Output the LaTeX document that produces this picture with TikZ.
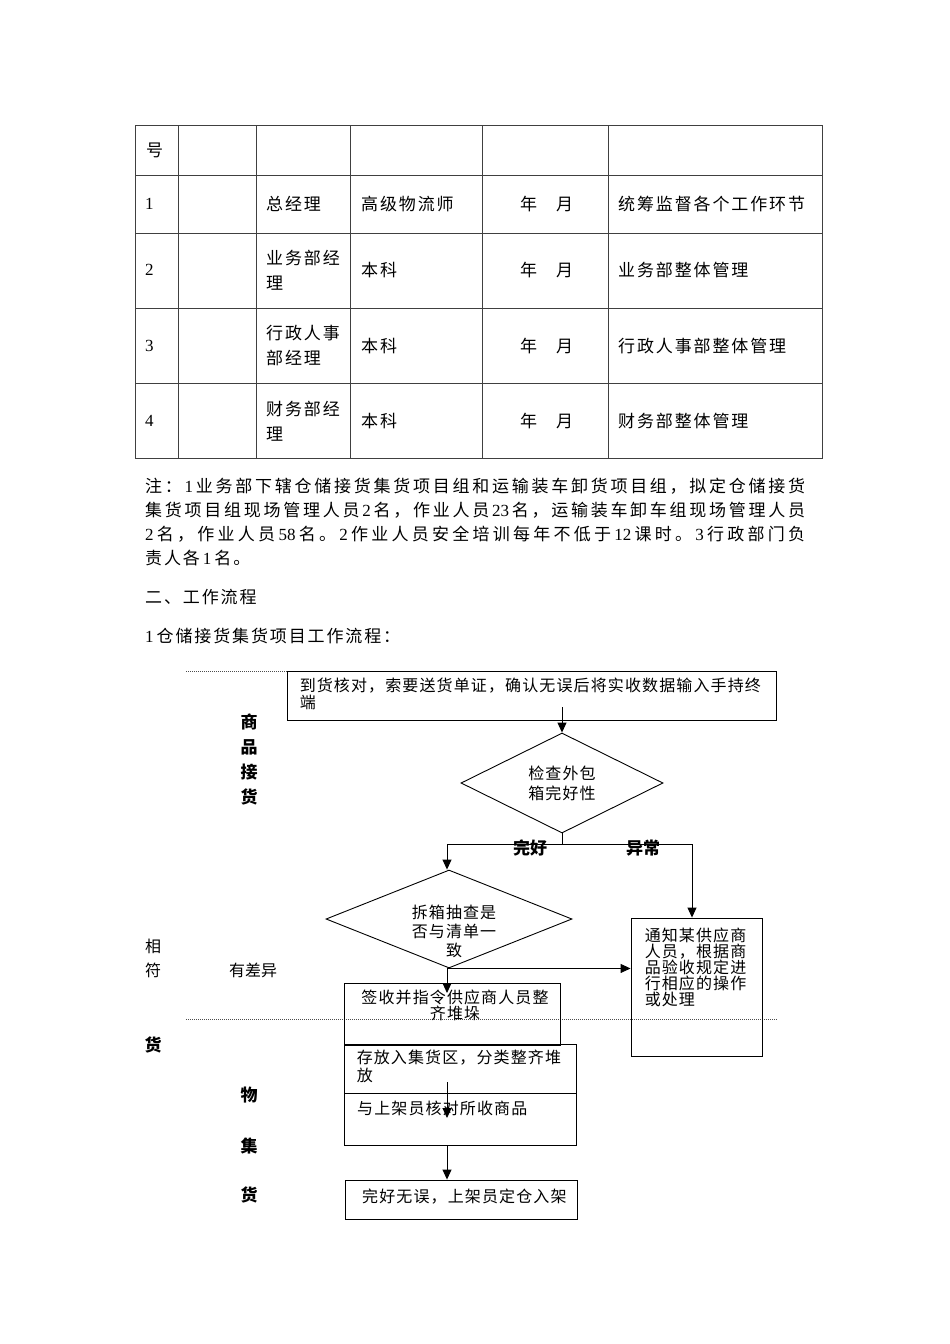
\documentclass[tikz,border=0pt]{standalone}
\usepackage{fontspec}
\setmainfont{Noto Sans CJK SC}
\newfontfamily\bodyfont{Noto Sans CJK SC}[LetterSpace=11]
\newfontfamily\flowfont{Noto Sans CJK SC}[LetterSpace=7]
\newfontfamily\latin{Liberation Serif}
\usetikzlibrary{positioning, arrows.meta, shapes.geometric}

% spread one line of characters over a fixed width
\newcommand\sprEnd{}
\newcommand\spr[2]{\hbox to #1{\sprFirst#2\sprEnd}}
\def\sprFirst#1{#1\sprNext}
\def\sprNext#1{\ifx\sprEnd#1\else\hfil#1\expandafter\sprNext\fi}

\tikzset{
  grid line/.style={draw=black!75, line width=0.9pt},
  cell/.style={anchor=west, inner sep=0pt, font=\fontsize{17}{25}\bodyfont},
  twocell/.style={anchor=north west, inner sep=0pt, align=left, font=\fontsize{17}{25}\bodyfont},
  flowbox/.style={draw, line width=0.9pt, inner sep=0pt},
  flowdia/.style={draw, diamond, line width=0.9pt, inner sep=0pt},
  flowtext/.style={inner sep=0pt, font=\fontsize{16}{17}\flowfont},
  side/.style={inner sep=0pt, font=\fontsize{17}{25}\selectfont\bfseries},
  link/.style={line width=0.9pt},
  arr/.style={link, -{Triangle[length=10pt,width=9pt]}},
  sep/.style={line width=0.8pt, dash pattern=on 1pt off 1pt, black!70}
}

\begin{document}
\begin{tikzpicture}[x=1pt, y=-1pt]
\useasboundingbox (0,0) rectangle (950,1344);

% table
\draw[grid line] (135,125) rectangle (822,458);
\foreach \x in {178,256,350,482,608} \draw[grid line] (\x,125) -- (\x,458);
\foreach \y in {175,233,308,383} \draw[grid line] (135,\y) -- (822,\y);

\node[cell] (hao) at (146,150) {号};

\node[cell] (n1) at (145,204) {\latin 1};
\node[cell] (post1) at (266,204) {总经理};
\node[cell] (title1) at (361,204) {高级物流师};
\node[cell] (date1) at (520,204) {年\hspace{19pt}月};
\node[cell] (duty1) at (618,204) {统筹监督各个工作环节};

\node[cell] (n2) at (145,270) {\latin 2};
\node[twocell] (post2) at (266,250) {业务部经\\理};
\node[cell] (title2) at (361,270) {本科};
\node[cell] (date2) at (520,270) {年\hspace{19pt}月};
\node[cell] (duty2) at (618,270) {业务部整体管理};

\node[cell] (n3) at (145,346) {\latin 3};
\node[twocell] (post3) at (266,325) {行政人事\\部经理};
\node[cell] (title3) at (361,346) {本科};
\node[cell] (date3) at (520,346) {年\hspace{19pt}月};
\node[cell] (duty3) at (618,346) {行政人事部整体管理};

\node[cell] (n4) at (145,421) {\latin 4};
\node[twocell] (post4) at (266,401) {财务部经\\理};
\node[cell] (title4) at (361,421) {本科};
\node[cell] (date4) at (520,421) {年\hspace{19pt}月};
\node[cell] (duty4) at (618,421) {财务部整体管理};

% notes
\node[cell] (note1) at (145,486) {\spr{660pt}{注：{{\latin 1}}业务部下辖仓储接货集货项目组和运输装车卸货项目组，拟定仓储接货}};
\node[cell] (note2) at (145,510) {\spr{660pt}{集货项目组现场管理人员{{\latin 2}}名，作业人员{{\latin 23}}名，运输装车卸车组现场管理人员}};
\node[cell] (note3) at (145,534) {\spr{660pt}{{{\latin 2}}名，作业人员{{\latin 58}}名。{{\latin 2}}作业人员安全培训每年不低于{{\latin 12}}课时。{{\latin 3}}行政部门负}};
\node[cell] (note4) at (145,558) {责人各\hspace{3pt}{\latin 1}\hspace{3pt}名。};
\node[cell] (sec2) at (145,597) {二、工作流程};
\node[cell] (sub1) at (145,636) {{\latin 1}\hspace{3pt}仓储接货集货项目工作流程：};

% flow chart
\draw[sep] (186,671) -- (287,671);
\draw[sep] (186,1019) -- (778,1019);

\node[flowbox, minimum width=489pt, minimum height=49pt] (arrive) at (531.5,695.5) {};
\node[flowtext, align=left, below right=7pt and 13pt of arrive.north west] (arrive-t)
  {到货核对，索要送货单证，确认无误后将实收数据输入手持终\\端};
\node[flowdia, minimum width=202pt, minimum height=100pt] (check) at (562,783) {};
\node[flowtext, align=center, font=\fontsize{16}{20}\flowfont] (check-t) at (562,783) {检查外包\\箱完好性};
\node[flowdia, minimum width=246pt, minimum height=98pt] (sample) at (449,919) {};
\node[flowtext, align=center, font=\fontsize{16}{19}\flowfont] (sample-t) at (454,931) {拆箱抽查是\\否与清单一\\致};
\node[flowbox, minimum width=131pt, minimum height=138pt] (notify) at (696.5,987) {};
\node[flowtext, align=left, font=\fontsize{16}{16}\flowfont, below right=10.5pt and 14pt of notify.north west] (notify-t)
  {通知某供应商\\人员，根据商\\品验收规定进\\行相应的操作\\或处理};
\node[flowbox, minimum width=216pt, minimum height=62pt] (sign) at (452,1014) {};
\node[flowtext, align=center, font=\fontsize{16}{16}\flowfont] (sign-t) at (455,1005) {签收并指令供应商人员整\\齐堆垛};
\node[flowbox, minimum width=232pt, minimum height=49pt] (store) at (460,1068.5) {};
\node[flowtext, align=left, font=\fontsize{16}{18}\flowfont, below right=6pt and 13pt of store.north west] (store-t)
  {存放入集货区，分类整齐堆\\放};
\node[flowbox, minimum width=232pt, minimum height=52pt] (verify) at (460,1119) {};
\node[flowtext, anchor=west] (verify-t) at (357,1108) {与上架员核对所收商品};
\node[flowbox, minimum width=232pt, minimum height=39pt] (shelf) at (461,1199.5) {};
\node[flowtext, anchor=west] (shelf-t) at (362,1197) {完好无误，上架员定仓入架};

\coordinate (a1) at (562,707);
\coordinate (bl) at (447,844);
\coordinate (br) at (692,844);
\coordinate (s1) at (447,993);
\coordinate (c1) at (447,1082);
\coordinate (c2) at (447,1118);

\draw[arr] (a1) -- (check.north);
\draw[arr] (check.south) -- (check.south |- bl) -- (bl) -- (bl |- sample.north);
\draw[arr] (check.south |- br) -- (br) -- (br |- notify.north);
\draw[arr] (bl |- sample.south) -- (s1);
\draw[arr] (bl |- sample.south) -- (sample.south -| notify.west);
\draw[arr] (c1) -- (c2);
\draw[arr] (verify.south -| c1) -- (shelf.north -| c1);

\node[side] (ok) at (530,848) {完好};
\node[side] (bad) at (643,848) {异常};

% side labels
\node[side, align=center] (recv) at (249,759) {商\\品\\接\\货};
\node[flowtext, font=\fontsize{16}{17}\selectfont] (xiang) at (153,946) {相};
\node[flowtext, font=\fontsize{16}{17}\selectfont] (fu) at (153,970) {符};
\node[flowtext, anchor=west, font=\fontsize{16}{17}\selectfont] (diff) at (229,970) {有差异};
\node[side] (huo1) at (153,1045) {货};
\node[side] (wu) at (249,1095) {物};
\node[side] (ji) at (249,1146) {集};
\node[side] (huo2) at (249,1195) {货};
\end{tikzpicture}
\end{document}
